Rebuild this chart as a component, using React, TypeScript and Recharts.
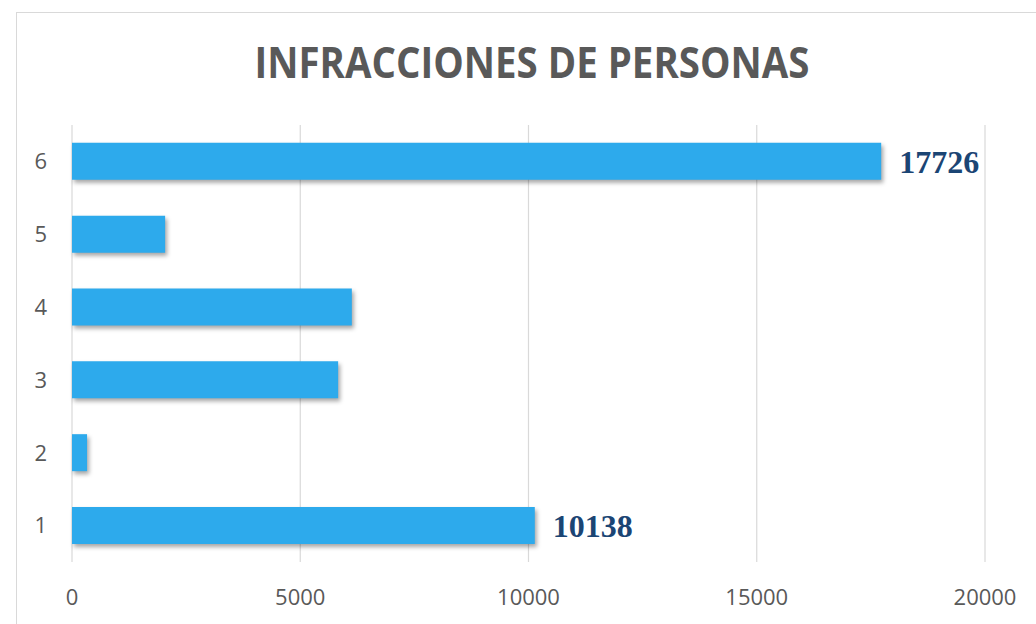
import React from "react";
import { BarChart, Bar, XAxis, YAxis, CartesianGrid, LabelList } from "recharts";

const categories = ["1", "2", "3", "4", "5", "6"];
const values = [10138, 330, 5830, 6130, 2040, 17726];
const shownLabels = ["10138", "", "", "", "", "17726"];
const xTicks = [0, 5000, 10000, 15000, 20000];
const title = "INFRACCIONES DE PERSONAS";

const data = categories.map((c, i) => ({ cat: c, value: values[i], label: shownLabels[i] }));

export default function App() {
  return (
    <div style={{ position: "fixed", left: 0, top: 0, width: 1036, height: 624, background: "#fff", overflow: "hidden" }}>
      <div style={{ position: "absolute", left: 16, top: 12, width: 1100, height: 700, border: "1px solid #d9d9d9", boxSizing: "border-box" }} />
      <svg style={{ position: "absolute", left: 0, top: 0 }} width={1036} height={110}>
        <text
          x={532}
          y={78}
          textAnchor="middle"
          fontFamily="Open Sans"
          fontWeight={700}
          fontSize={43}
          fill="#595959"
          textLength={555}
          lengthAdjust="spacingAndGlyphs"
        >
          {title}
        </text>
      </svg>
      <div style={{ position: "absolute", left: 0, top: 0 }}>
        <BarChart
          width={1036}
          height={624}
          data={data}
          layout="vertical"
          margin={{ top: 125, right: 51, bottom: 0, left: 0 }}
          barCategoryGap="24.5%"
        >
          <CartesianGrid horizontal={false} stroke="#d9d9d9" strokeWidth={1.2} />
          <XAxis
            type="number"
            domain={[0, 20000]}
            ticks={xTicks}
            axisLine={false}
            tickLine={false}
            tickSize={0}
            tickMargin={27}
            height={62}
            interval={0}
            tick={{ fill: "#595959", fontSize: 22, fontFamily: "Open Sans" }}
          />
          <YAxis
            type="category"
            dataKey="cat"
            reversed
            width={72}
            axisLine={false}
            tickLine={false}
            tickSize={0}
            tickMargin={25}
            tick={{ fill: "#595959", fontSize: 22, fontFamily: "Open Sans" }}
          />
          <Bar
            dataKey="value"
            fill="#2DAAEC"
            isAnimationActive={false}
            style={{ filter: "drop-shadow(2px 3px 2px rgba(0,0,0,0.35))" }}
          >
            <LabelList
              dataKey="label"
              position="right"
              offset={18}
              fill="#1B4574"
              style={{ fontFamily: "Liberation Serif", fontWeight: 700, fontSize: 32 }}
            />
          </Bar>
        </BarChart>
      </div>
    </div>
  );
}
